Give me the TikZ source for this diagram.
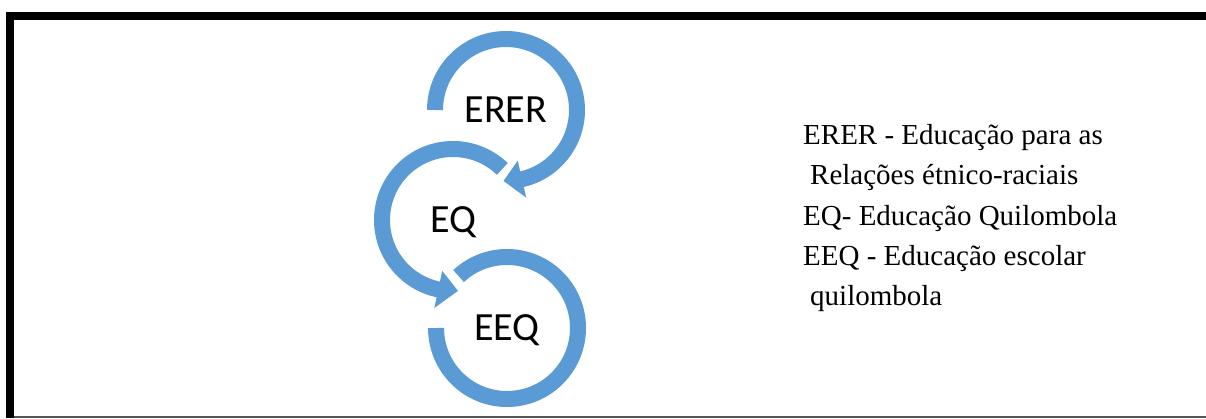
\documentclass[tikz,border=0pt]{standalone}
\usepackage{fontspec}
\setmainfont{Liberation Serif}
\newfontfamily\calib{Carlito}
\usetikzlibrary{calc}
\definecolor{cblue}{HTML}{5B9BD5}
\definecolor{edgegray}{HTML}{555555}
\begin{document}
\begin{tikzpicture}[x=1pt,y=1pt,
  band/.style={draw=cblue, line width=16pt},
  head/.style={fill=cblue, draw=none},
  lbl/.style={font=\calib\fontsize{40}{48}\selectfont, inner sep=0pt, anchor=base},
  legend/.style={font=\fontsize{29}{35}\selectfont, anchor=base west, inner sep=0pt}]
\useasboundingbox (0,0) rectangle (1206,418);
\fill[white] (0,0) rectangle (1206,418);
% frame
\draw[line width=8pt, miter limit=10] (10,0) -- (10,402) -- (1206,402);
\draw[edgegray, line width=1.5pt] (14,1) -- (1206,1);
% circle centres
\coordinate (c1) at (506,308);
\coordinate (c2) at (453,198);
\coordinate (c3) at (507,90);
% ERER arc
\draw[band] ($(c1)+(180:71)$) arc[start angle=180, end angle=-78, radius=71];
\fill[head] ($(c1)+(-77:52)$) -- ($(c1)+(-77:90)$) -- ($(c1)+(-92:71)$) -- cycle;
% EQ arc
\draw[band] ($(c2)+(46:71)$) arc[start angle=46, end angle=259, radius=71];
\fill[head] ($(c2)+(258:52)$) -- ($(c2)+(258:90)$) -- ($(c2)+(274:71)$) -- cycle;
% EEQ arc
\draw[band] ($(c3)+(133:71)$) arc[start angle=133, end angle=-180, radius=71];
% labels
\node[lbl] (erer) at ($(c1)+(0,-12.5)$) {ERER};
\node[lbl] (eq) at ($(c2)+(0,-12.5)$) {EQ};
\node[lbl] (eeq) at ($(c3)+(0,-12.5)$) {EEQ};
% legend
\node[legend] (l1) at (803,273) {ERER - Educação para as};
\node[legend] (l2) at (810,233) {Relações étnico-raciais};
\node[legend] (l3) at (803,193) {EQ- Educação Quilombola};
\node[legend] (l4) at (803,153) {EEQ - Educação escolar};
\node[legend] (l5) at (810,113) {quilombola};
\end{tikzpicture}
\end{document}
